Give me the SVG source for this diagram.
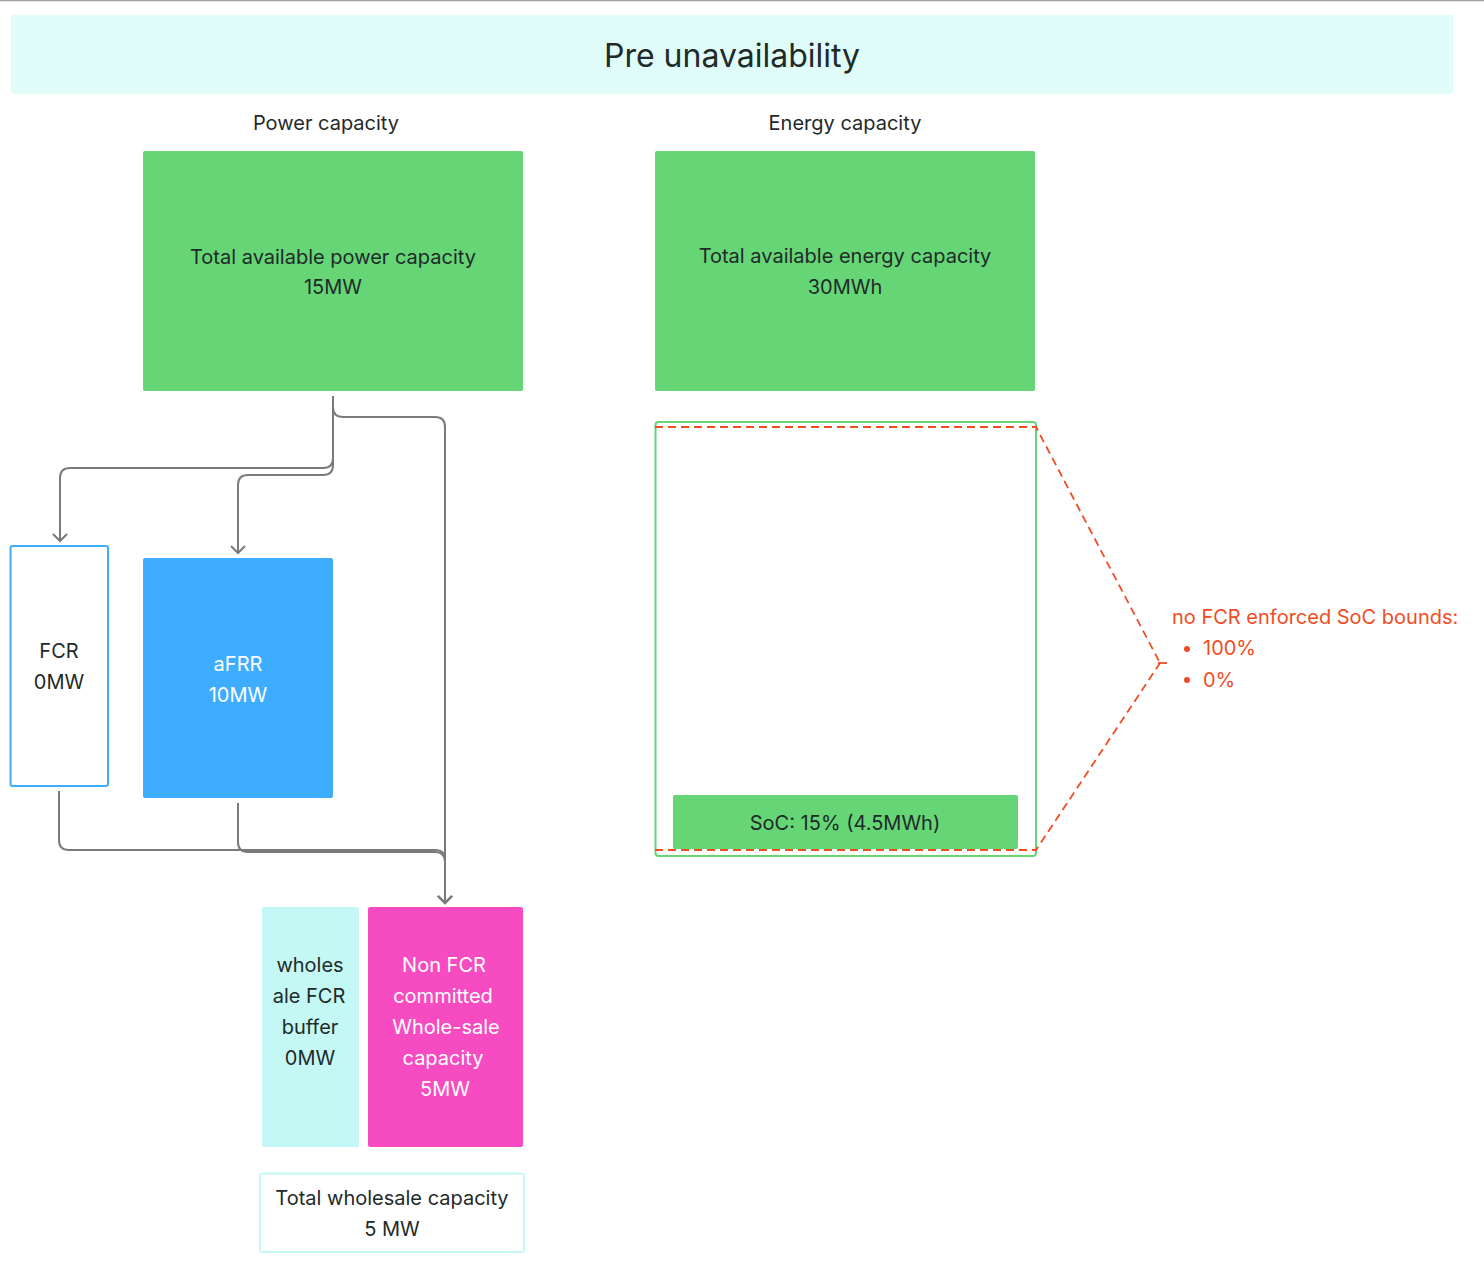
<svg xmlns="http://www.w3.org/2000/svg" width="1484" height="1270" viewBox="0 0 1484 1270">
<defs>
<style>
text{font-family:Inter,"Noto Sans","Liberation Sans",sans-serif;font-size:20px;fill:#1f2a2a;text-anchor:middle}
.w{fill:#ffffff}
.red{fill:#f04d23;text-anchor:start}
.conn{fill:none;stroke:#7a7a7a;stroke-width:2}
.dash{fill:none;stroke:#f04d23;stroke-width:1.8;stroke-dasharray:8 5}
</style>
<marker id="arr" markerUnits="userSpaceOnUse" markerWidth="20" markerHeight="20" viewBox="-10 -10 20 20" refX="0" refY="0" orient="auto" overflow="visible">
<path d="M-7,-7 L0,0 L-7,7" fill="none" stroke="#7a7a7a" stroke-width="2"/>
</marker>
</defs>
<rect x="0" y="0" width="1484" height="1270" fill="#ffffff"/>
<line x1="0" y1="0.5" x2="1484" y2="0.5" stroke="#a0a0a0" stroke-width="1.5"/>
<g id="title">
<rect x="11" y="15" width="1442" height="79" rx="2" fill="#e0fcf8"/>
<text x="732" y="67" style="font-size:32px">Pre unavailability</text>
</g>
<g id="power-label"><text x="326" y="130">Power capacity</text></g>
<g id="energy-label"><text x="845" y="130">Energy capacity</text></g>
<g id="power-total">
<rect x="143" y="151" width="380" height="240" rx="2" fill="#66d575"/>
<text x="333" y="264">Total available power capacity</text>
<text x="333" y="294">15MW</text>
</g>
<g id="energy-total">
<rect x="655" y="151" width="380" height="240" rx="2" fill="#66d575"/>
<text x="845" y="263">Total available energy capacity</text>
<text x="845" y="294">30MWh</text>
</g>
<g id="fcr">
<rect x="10.5" y="546" width="97.5" height="240" rx="2" fill="#ffffff" stroke="#40aeff" stroke-width="2"/>
<text x="59" y="658">FCR</text>
<text x="59" y="689">0MW</text>
</g>
<g id="afrr">
<rect x="143" y="558" width="190" height="240" rx="2" fill="#3fadff"/>
<text class="w" x="238" y="671">aFRR</text>
<text class="w" x="238" y="702">10MW</text>
</g>
<g id="wholesale-fcr-buffer">
<rect x="262" y="907" width="97" height="240" rx="2" fill="#c4f8f4"/>
<text x="310" y="972">wholes</text>
<text x="309" y="1003">ale FCR</text>
<text x="310" y="1034">buffer</text>
<text x="310" y="1065">0MW</text>
</g>
<g id="non-fcr">
<rect x="368" y="907" width="155" height="240" rx="2" fill="#f74cc1"/>
<text class="w" x="444" y="972">Non FCR</text>
<text class="w" x="443" y="1003">committed</text>
<text class="w" x="446" y="1034">Whole-sale</text>
<text class="w" x="443" y="1065">capacity</text>
<text class="w" x="445" y="1096">5MW</text>
</g>
<g id="total-wholesale">
<rect x="260" y="1173.5" width="264" height="78.5" rx="2" fill="#ffffff" stroke="#c4f8f4" stroke-width="2"/>
<text x="392" y="1205">Total wholesale capacity</text>
<text x="392" y="1236">5 MW</text>
</g>
<g id="soc-container">
<rect x="655.5" y="422" width="380.5" height="434" rx="3" fill="#ffffff" stroke="#66d575" stroke-width="2"/>
</g>
<g id="soc">
<rect x="673" y="795" width="345" height="54" rx="2" fill="#66d575"/>
<text x="845" y="830">SoC: 15% (4.5MWh)</text>
</g>
<g id="soc-bounds">
<path class="dash" d="M655,427 H1036 L1160,663 M655,850 H1036 L1160,663"/>
<line x1="1158" y1="663" x2="1167" y2="663" stroke="#f04d23" stroke-width="1.8"/>
<text class="red" x="1172" y="624">no FCR enforced SoC bounds:</text>
<circle cx="1187" cy="649" r="3" fill="#f04d23"/>
<text class="red" x="1203" y="655">100%</text>
<circle cx="1187" cy="680" r="3" fill="#f04d23"/>
<text class="red" x="1203" y="687">0%</text>
</g>
<g id="connectors">
<path class="conn" marker-end="url(#arr)" d="M333,396 V458 Q333,468 323,468 H70 Q60,468 60,478 V541"/>
<path class="conn" marker-end="url(#arr)" d="M333,396 V465 Q333,475 323,475 H248 Q238,475 238,485 V553"/>
<path class="conn" marker-end="url(#arr)" d="M333,396 V407 Q333,417 343,417 H435 Q445,417 445,427 V903"/>
<path class="conn" marker-end="url(#arr)" d="M59,791 V840 Q59,850 69,850 H435 Q445,850 445,860 V903"/>
<path class="conn" marker-end="url(#arr)" d="M238,803 V842 Q238,852 248,852 H435 Q445,852 445,862 V903"/>
</g>
</svg>
